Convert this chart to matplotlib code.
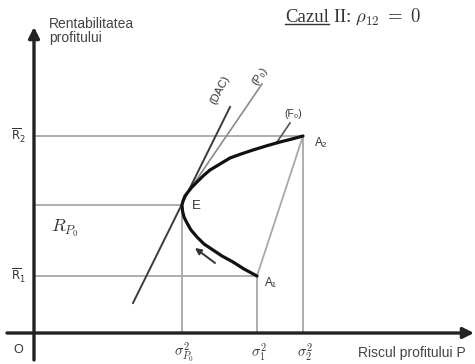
import matplotlib
matplotlib.use("Agg")
import matplotlib.pyplot as plt

# ---- data ----
sigma_p0 = 148      # variance of portfolio P0
sigma1 = 223        # variance asset 1
sigma2 = 269        # variance asset 2
R1 = 57             # expected return asset 1
R2 = 197            # expected return asset 2
Rp0 = 128           # return of P0

curve_x = [223, 210, 199, 188, 179, 170, 163, 157, 153, 150, 148.5, 148, 149, 151, 154,
           158, 163, 169, 176, 186, 196, 207, 219, 232, 246, 258, 269]
curve_y = [57, 64, 71, 77, 83, 89, 96, 103, 110, 116, 122, 128, 132, 137, 141,
           146, 151, 157, 163, 169, 175, 179, 183, 187, 191, 194, 197]

dac_x = [99, 196]
dac_y = [30, 226]
p0_x = [150, 228]
p0_y = [135, 249]
f0_x = [243, 256]
f0_y = [191, 210]
arrow_from = (181, 70)
arrow_to = (161, 85)

x_ticks = [sigma_p0, sigma1, sigma2]
x_tick_labels = [r"$\sigma^2_{P_0}$", r"$\sigma^2_1$", r"$\sigma^2_2$"]

sans = ["Liberation Sans", "DejaVu Sans"]
serif = ["Liberation Serif", "DejaVu Serif"]

fig = plt.figure(figsize=(4.75, 3.64), dpi=100)
ax = fig.add_axes([0, 0, 1, 1])
ax.set_xlim(-34, 441)
ax.set_ylim(-31, 333)
ax.axis("off")

gray = "#a8a8a8"
dark = "#333333"

# reference lines
ax.plot([0, sigma2], [R2, R2], color=gray, lw=1.3, zorder=1)
ax.plot([0, sigma1], [R1, R1], color=gray, lw=1.3, zorder=1)
ax.plot([0, sigma_p0], [Rp0, Rp0], color=gray, lw=1.3, zorder=1)
ax.plot([sigma2, sigma2], [0, R2], color=gray, lw=1.3, zorder=1)
ax.plot([sigma1, sigma1], [0, R1], color=gray, lw=1.3, zorder=1)
ax.plot([sigma_p0, sigma_p0], [0, Rp0], color=gray, lw=1.3, zorder=1)
ax.plot([sigma1, sigma2], [R1, R2], color=gray, lw=1.3, zorder=1)
ax.plot(p0_x, p0_y, color="#8a8a8a", lw=1.2, zorder=1)
ax.plot(dac_x, dac_y, color="#3a3a3a", lw=1.4, zorder=2)
ax.plot(f0_x, f0_y, color="#555555", lw=1.2, zorder=2)

# efficient frontier
ax.plot(curve_x, curve_y, color="#111111", lw=2.3, zorder=3,
        solid_joinstyle="round", solid_capstyle="round")

# small arrow along the curve
ax.annotate("", xy=arrow_to, xytext=arrow_from,
            arrowprops=dict(arrowstyle="-|>", color="#333333", lw=1.4,
                            mutation_scale=9, shrinkA=0, shrinkB=0))

# axes with arrows
ax.annotate("", xy=(440, 0), xytext=(-27, 0),
            arrowprops=dict(arrowstyle="-|>", color="#222222", lw=2.4,
                            mutation_scale=16, shrinkA=0, shrinkB=0), zorder=4)
ax.annotate("", xy=(0, 306), xytext=(0, -27),
            arrowprops=dict(arrowstyle="-|>", color="#222222", lw=2.4,
                            mutation_scale=16, shrinkA=0, shrinkB=0), zorder=4)

# text labels
ax.text(15, 302, "Rentabilitatea\nprofitului", family=sans, fontsize=10,
        color="#444444", ha="left", va="center", linespacing=1.05)
ax.text(324, -20, "Riscul profitului P", family=sans, fontsize=10,
        color="#444444", ha="left", va="center")
ax.text(-16, -17, "O", family=sans, fontsize=9, color=dark,
        ha="center", va="center")
ax.text(-16, R2, r"$\overline{\mathsf{R}}_{2}$", fontsize=8.5, color=dark,
        ha="center", va="center")
ax.text(-16, R1, r"$\overline{\mathsf{R}}_{1}$", fontsize=8.5, color=dark,
        ha="center", va="center")
ax.text(31, 105, r"$R_{P_0}$", fontsize=13, color=dark, ha="center",
        va="center", math_fontfamily="cm")
for xt, lab in zip(x_ticks, x_tick_labels):
    ax.text(xt + 2, -19, lab, fontsize=10.5, color=dark, ha="center",
            va="center", math_fontfamily="cm")

ax.text(sigma2 + 12, R2 - 7, "A₂", family=sans, fontsize=8.5, color=dark,
        ha="left", va="center")
ax.text(sigma1 + 8, R1 - 7, "A₁", family=sans, fontsize=8.5, color=dark,
        ha="left", va="center")
ax.text(sigma_p0 + 14, Rp0 - 1, "E", family=sans, fontsize=9.5, color=dark,
        ha="center", va="center")
ax.text(186, 243, "(DAC)", family=sans, fontsize=8, color=dark,
        ha="center", va="center", rotation=63)
ax.text(226, 257, "(P₀)", family=sans, fontsize=8, color=dark,
        ha="center", va="center", rotation=55)
ax.text(259, 219, "(F₀)", family=sans, fontsize=7.5, color=dark,
        ha="center", va="center")

# title with underlined "Cazul"
t1 = ax.text(251, 316, "Cazul", family=serif, fontsize=13.5, color=dark,
             ha="left", va="center")
fig.canvas.draw()
bb = t1.get_window_extent(fig.canvas.get_renderer())
inv = ax.transData.inverted()
(x0, y0), (x1, y1) = inv.transform([(bb.x0, bb.y0), (bb.x1, bb.y1)])
ax.plot([x0, x1], [y0 + 1.5, y0 + 1.5], color=dark, lw=1.0)
ax.text(x1, 316, r" II: $\rho_{12}\;=\;0$", family=serif, fontsize=13.5,
        color=dark, ha="left", va="center", math_fontfamily="cm")

fig.savefig("out.png", dpi=100)
